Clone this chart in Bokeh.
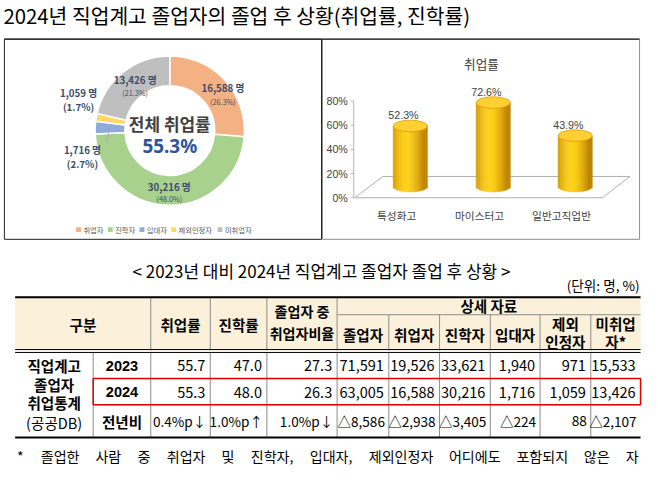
import math
from bokeh.plotting import figure
from bokeh.models import Range1d
from bokeh.embed import file_html
from bokeh.resources import INLINE
from bokeh.core.properties import value

# ---------------- data ----------------
TITLE = "2024년 직업계고 졸업자의 졸업 후 상황(취업률, 진학률)"

donut_cats = ["취업자", "진학자", "입대자", "제외인정자", "미취업자"]
donut_counts = [16588, 30216, 1716, 1059, 13426]
donut_pcts = [26.3, 48.0, 2.7, 1.7, 21.3]
donut_colors = ["#F4B183", "#A9D18E", "#8FAADC", "#FFD966", "#BFBFBF"]
center_label = "전체 취업률"
overall_rate = 55.3

bar_title = "취업률"
bar_cats = ["특성화고", "마이스터고", "일반고직업반"]
bar_rates = [52.3, 72.6, 43.9]
bar_ticks = [0, 20, 40, 60, 80]

SUBTITLE = "< 2023년 대비 2024년 직업계고 졸업자 졸업 후 상황 >"
UNIT = "(단위: 명, %)"
years = ["2023", "2024"]
emp_rate = [55.7, 55.3]
adv_rate = [47.0, 48.0]
emp_ratio = [27.3, 26.3]
graduates = [71591, 63005]
employed = [19526, 16588]
advanced = [33621, 30216]
military = [1940, 1716]
excluded = [971, 1059]
unemployed = [15533, 13426]
FOOTNOTE = "* 졸업한 사람 중 취업자 및 진학자, 입대자, 제외인정자 어디에도 포함되지 않은 자"

KR = "Noto Sans CJK KR"
LAT = "Liberation Sans"
S = 0.97  # font scale (canvas is a little smaller than the reference)

p = figure(width=642, height=467, x_range=Range1d(0, 658), y_range=Range1d(-483, 0),
           output_backend="svg", toolbar_location=None, min_border=0,
           x_axis_type=None, y_axis_type=None)
p.grid.visible = False
p.outline_line_color = None
p.background_fill_color = "white"


def T(x, y, s, size, color="#000000", bold=False, align="center", font=KR, baseline="middle"):
    p.text(x=[x], y=[-y], text=[s], text_font=value(font), text_font_size=f"{size * S:.2f}px",
           text_color=color, text_font_style="bold" if bold else "normal",
           text_align=align, text_baseline=baseline)


def L(xs, ys, color="#000000", w=1.0):
    p.line(x=xs, y=[-v for v in ys], line_color=color, line_width=w)


# ---------------- title ----------------
T(3, 15, TITLE, 21, align="left")

# ---------------- panels ----------------
p.quad(left=[4], right=[329], top=[-40], bottom=[-247], fill_color=None, line_color="#202020", line_width=1)
p.quad(left=[330], right=[655], top=[-40], bottom=[-247], fill_color=None, line_color="#8C8C8C", line_width=1)
L([4, 655], [40, 40], "#202020", 1.2)

# ---------------- donut ----------------
cx, cy = 173.5, 134.5
total = sum(donut_counts)
starts, ends = [], []
cum = 0
for c in donut_counts:
    starts.append(math.pi / 2 - 2 * math.pi * cum / total)
    cum += c
    ends.append(math.pi / 2 - 2 * math.pi * cum / total)
p.annular_wedge(x=cx, y=-cy, inner_radius=46, outer_radius=76.5, start_angle=starts,
                end_angle=ends, direction="clock", fill_color=donut_colors,
                line_color="white", line_width=1.5)

lab_col = "#3E4C6B"
label_pos = [(228, 90, 105, False), (173, 193, 205, False), (84, 155, 169, True),
             (80, 96, 110, True), (138, 82, 96, False)]
for cnt, pc, (lx, ly1, ly2, big) in zip(donut_counts, donut_pcts, label_pos):
    T(lx, ly1, f"{cnt:,} 명", 10, lab_col, bold=True)
    T(lx, ly2, f"({pc:.1f}%)", 10 if big else 7.5, lab_col, bold=big)
L([112, 108], [132, 147], "#A6A6A6", 0.8)

T(cx, 127, center_label, 17.5, "#404040", bold=True)
T(cx, 151, f"{overall_rate}%", 19.5, "#2F5597", bold=True, font="Noto Sans")

lx = 80
for cat, col in zip(donut_cats, donut_colors):
    p.rect(x=[lx], y=[-237], width=5, height=5, fill_color=col, line_color=None)
    T(lx + 5, 237, cat, 7.5, "#595959", align="left")
    lx += 5 + 7.5 * len(cat) + 5

# ---------------- 3D bar chart ----------------
T(493, 65, bar_title, 13, "#404040")
axis_x, y0, ky = 362, 204, 1.25
for t in bar_ticks:
    T(356, y0 - ky * t, f"{t}%", 11, "#404040", align="right", font=LAT)
    L([axis_x - 3, axis_x], [y0 - ky * t, y0 - ky * t], "#A0A0A0", 0.8)
L([axis_x, axis_x], [y0 - ky * 80, y0], "#A0A0A0", 0.8)
L([363, 617, 645, 392, 363], [204, 204, 182, 182, 204], "#A6A6A6", 0.9)

base, kb, bw, eh = 192, 1.19, 35, 12
bar_x = [420, 505, 589]
n = 16


def mix(c1, c2, f):
    a = [int(c1[i:i + 2], 16) for i in (1, 3, 5)]
    b = [int(c2[i:i + 2], 16) for i in (1, 3, 5)]
    return "#%02x%02x%02x" % tuple(int(round(a[k] + (b[k] - a[k]) * f)) for k in range(3))


for bx, v, cat in zip(bar_x, bar_rates, bar_cats):
    top = base - kb * v
    lefts, rights, tops, bots, cols = [], [], [], [], []
    for i in range(n):
        l0 = bx - bw / 2 + i * bw / n
        r0 = l0 + bw / n
        tt = ((l0 + r0) / 2 - bx) / (bw / 2)
        off = (eh / 2) * math.sqrt(max(0.0, 1 - tt * tt))
        f = max(0.0, 1 - abs(tt + 0.2) ** 1.6)
        lefts.append(l0)
        rights.append(r0)
        tops.append(-top)
        bots.append(-(base + off))
        cols.append(mix("#C08400", "#FFD21A", f))
    p.quad(left=lefts, right=rights, top=tops, bottom=bots, fill_color=cols,
           line_color=cols, line_width=0.6)
    p.ellipse(x=[bx], y=[-top], width=bw, height=eh, fill_color="#FFCF33",
              line_color="#D9A000", line_width=0.8)
    T(bx - 7, top - 11, f"{v}%", 11, "#404040", font=LAT)
    T(bx - 14, 222, cat, 11, "#404040")

# ---------------- subtitle ----------------
T(329, 279, SUBTITLE, 17.5)
T(655, 294, UNIT, 14, align="right")

# ---------------- table ----------------
cols = [15, 95, 154, 215, 273, 345, 398, 450, 502, 553, 605, 656]
p.quad(left=[15], right=[656], top=[-307], bottom=[-362], fill_color="#FBF1DA", line_color=None)
for xv in cols[2:6]:
    L([xv, xv], [307, 362], "#8C8C8C", 1)
for xv in cols[6:11]:
    L([xv, xv], [325, 362], "#8C8C8C", 1)
L([345, 656], [325, 325], "#8C8C8C", 1)
for xv in cols[1:11]:
    L([xv, xv], [364, 452], "#8C8C8C", 1)
L([95, 656], [391, 391], "#8C8C8C", 1)
L([95, 656], [418, 418], "#8C8C8C", 1)
L([15, 656], [307, 307], "#000000", 2)
L([15, 656], [361, 361], "#000000", 1)
L([15, 656], [364, 364], "#000000", 1)
L([15, 656], [452, 452], "#000000", 2)
p.quad(left=[95], right=[656], top=[-391], bottom=[-418], fill_color=None,
       line_color="#E00000", line_width=1.5)

mid = lambda i: (cols[i] + cols[i + 1]) / 2
T((cols[0] + cols[2]) / 2, 335, "구분", 15, bold=True)
T(mid(2), 335, "취업률", 15, bold=True)
T(mid(3), 335, "진학률", 15, bold=True)
T(mid(4), 321, "졸업자 중", 14.5, bold=True)
T(mid(4), 344, "취업자비율", 14.5, bold=True)
T((cols[5] + cols[11]) / 2, 315, "상세 자료", 15, bold=True)
for i, h in zip(range(5, 9), ["졸업자", "취업자", "진학자", "입대자"]):
    T(mid(i), 345, h, 15, bold=True)
T(mid(9), 334, "제외", 15, bold=True)
T(mid(9), 353, "인정자", 15, bold=True)
T(mid(10), 334, "미취업", 15, bold=True)
T(mid(10), 353, "자*", 15, bold=True)

for yy, s, b in [(378, "직업계고", True), (397, "졸업자", True), (416, "취업통계", True), (436, "(공공DB)", False)]:
    T(55, yy, s, 15, bold=b)

row_y = [378, 405]
for yi, yr in enumerate(years):
    T(mid(1), row_y[yi], yr, 15, bold=True, font=LAT)
    vals = [f"{emp_rate[yi]:.1f}", f"{adv_rate[yi]:.1f}", f"{emp_ratio[yi]:.1f}",
            f"{graduates[yi]:,}", f"{employed[yi]:,}", f"{advanced[yi]:,}",
            f"{military[yi]:,}", f"{excluded[yi]:,}", f"{unemployed[yi]:,}"]
    for ci, s in enumerate(vals):
        T(cols[ci + 3] - 5, row_y[yi], s, 15, align="right")

T(mid(1), 435, "전년비", 15, bold=True)


def pp(a, b):
    d = round(b - a, 1)
    return f"{abs(d):.1f}%p" + ("↑" if d > 0 else "↓")


def dc(a, b):
    d = b - a
    return f"△{abs(d):,}" if d < 0 else f"{d:,}"


diffs = [pp(emp_rate[0], emp_rate[1]), pp(adv_rate[0], adv_rate[1]), pp(emp_ratio[0], emp_ratio[1]),
         dc(graduates[0], graduates[1]), dc(employed[0], employed[1]), dc(advanced[0], advanced[1]),
         dc(military[0], military[1]), dc(excluded[0], excluded[1]), dc(unemployed[0], unemployed[1])]
for ci, s in enumerate(diffs):
    T(cols[ci + 3] - 4, 435, s, 14, align="right")

# ---------------- footnote (justified words) ----------------
fs = 14.5
words = FOOTNOTE.split(" ")


def wlen(w):
    tot = 0
    for ch in w:
        if ord(ch) >= 0xAC00:
            tot += 0.9
        elif ch == ",":
            tot += 0.3
        else:
            tot += 0.5
    return tot * fs


x0, x1 = 17, 654
gap = (x1 - x0 - sum(wlen(w) for w in words)) / (len(words) - 1)
xx = x0
for w in words:
    T(xx, 471, w, fs, "#000000", align="left")
    xx += wlen(w) + gap

open("out.html", "w").write(file_html(p, INLINE))
